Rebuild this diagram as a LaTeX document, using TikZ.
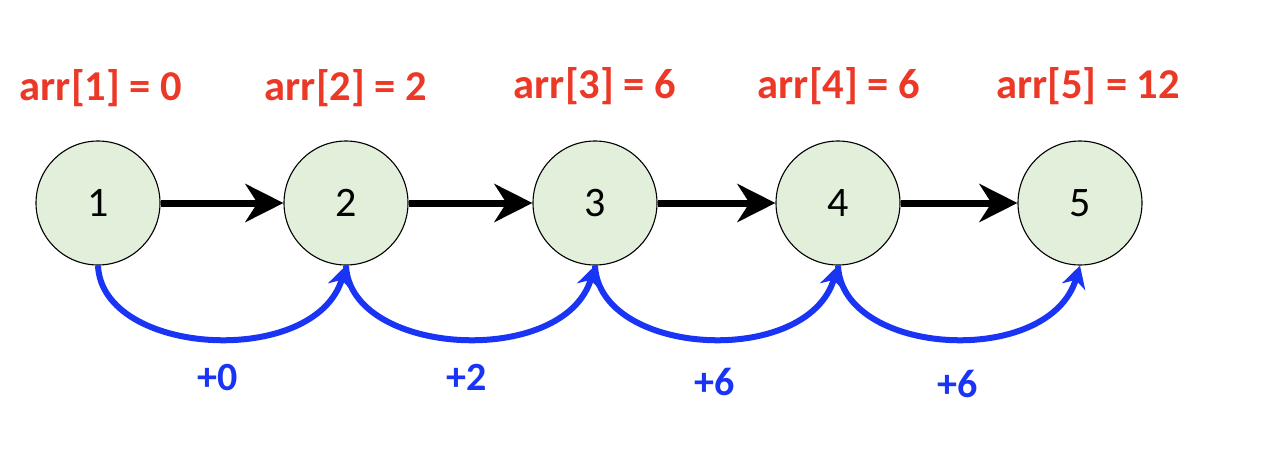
\documentclass[tikz,border=0pt]{standalone}
\usepackage{fontspec}
\setmainfont{Carlito}
\usetikzlibrary{arrows.meta}
\definecolor{cellfill}{RGB}{226,239,218}
\definecolor{valred}{RGB}{236,56,38}
\definecolor{addblue}{RGB}{26,52,245}

\begin{document}
\begin{tikzpicture}[x=1pt,y=-1pt,
    cell/.style={circle,draw=black,line width=1.1pt,fill=cellfill,minimum size=124pt,inner sep=0pt,font=\fontsize{42}{44}\selectfont},
    link/.style={line width=7pt,-{Stealth[length=38pt,width=38pt,inset=12pt]}},
    hop/.style={addblue,line width=6pt,-{Stealth[length=22pt,width=24pt,inset=7pt]}},
    val/.style={valred,font=\fontsize{42.5}{44}\selectfont\bfseries},
    gain/.style={addblue,font=\fontsize{40}{44}\selectfont\bfseries}]
  \useasboundingbox (0,0) rectangle (1262,448);
  % nodes
  \node[cell] (c1) at (98,203) {1};
  \node[cell] (c2) at (346,203) {2};
  \node[cell] (c3) at (595,203) {3};
  \node[cell] (c4) at (838,203) {4};
  \node[cell] (c5) at (1080,203) {5};
  % values above
  \node[val] (v1) at (101,88) {arr[1] = 0};
  \node[val] (v2) at (346,88) {arr[2] = 2};
  \node[val] (v3) at (595,86) {arr[3] = 6};
  \node[val] (v4) at (839,86) {arr[4] = 6};
  \node[val] (v5) at (1088,86) {arr[5] = 12};
  % straight links
  \draw[link] (c1) -- (c2);
  \draw[link] (c2) -- (c3);
  \draw[link] (c3) -- (c4);
  \draw[link] (c4) -- (c5);
  % jumps below
  \draw[hop] (c1.south) .. controls +(4,91) and +(-31,103) .. (c2.south);
  \draw[hop] (c2.south) .. controls +(4,91) and +(-31,103) .. (c3.south);
  \draw[hop] (c3.south) .. controls +(4,91) and +(-31,103) .. (c4.south);
  \draw[hop] (c4.south) .. controls +(4,91) and +(-31,103) .. (c5.south);
  \node[gain] (g1) at (218,378) {+0};
  \node[gain] (g2) at (467,377) {+2};
  \node[gain] (g3) at (715,382) {+6};
  \node[gain] (g4) at (958,384) {+6};
\end{tikzpicture}
\end{document}
